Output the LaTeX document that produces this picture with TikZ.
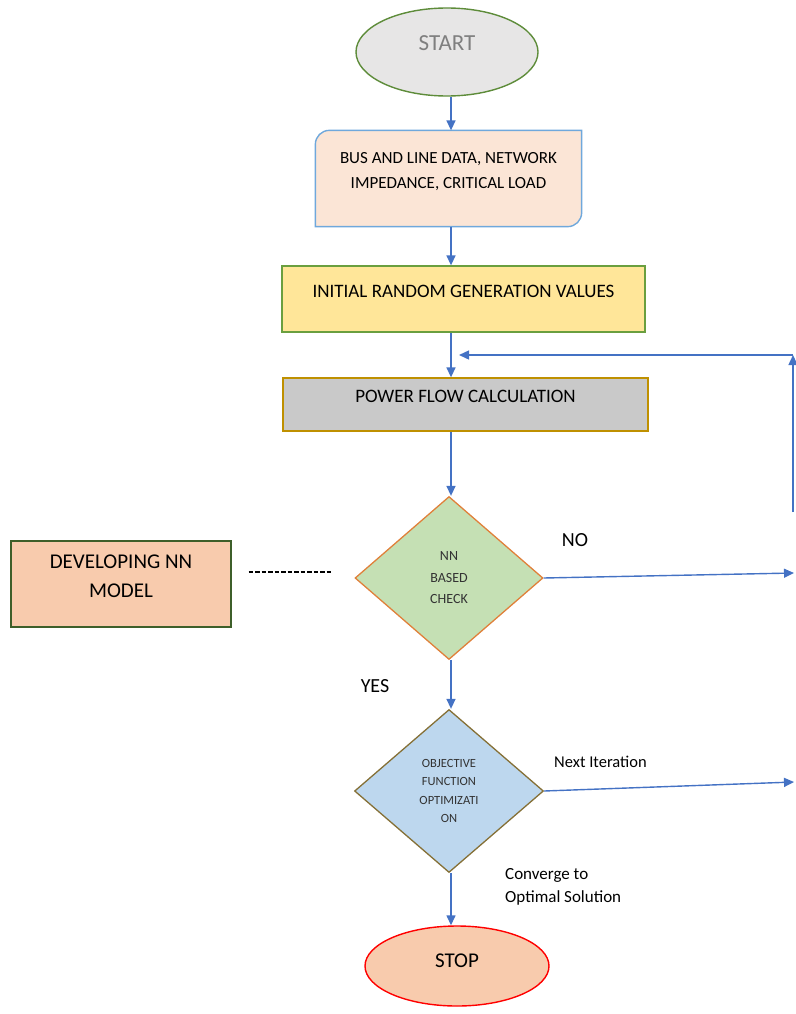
\documentclass[tikz,border=0pt]{standalone}
\usepackage{fontspec}
\setmainfont{Carlito}
\usetikzlibrary{shapes.geometric,arrows.meta,backgrounds}
\definecolor{flowblue}{HTML}{4472C4}
\definecolor{startfill}{HTML}{E7E6E6}
\definecolor{startline}{HTML}{5E8C3A}
\definecolor{startgray}{HTML}{7F7F7F}
\definecolor{datafill}{HTML}{FBE5D6}
\definecolor{dataline}{HTML}{6FA8DC}
\definecolor{initfill}{HTML}{FFE699}
\definecolor{initline}{HTML}{6A9F3F}
\definecolor{pffill}{HTML}{C9C9C9}
\definecolor{pfline}{HTML}{BF9000}
\definecolor{chkfill}{HTML}{C5E0B4}
\definecolor{chkline}{HTML}{E0803A}
\definecolor{devfill}{HTML}{F8CBAD}
\definecolor{devline}{HTML}{3E5F2A}
\definecolor{objfill}{HTML}{BDD7EE}
\definecolor{objline}{HTML}{857036}
\begin{document}
\begin{tikzpicture}[x=1pt, y=-1pt,
		flow/.style={draw=flowblue, line width=1.4pt, -{Triangle[length=10pt, width=9pt]}},
		procbox/.style={rectangle, line width=1.3pt, inner sep=0pt, align=center, text depth=16pt},
		terminal/.style={ellipse, line width=1.4pt, inner sep=0pt},
		decision/.style={diamond, line width=1.3pt, inner sep=0pt, align=center, text=black!80},
		lbl/.style={inner sep=0pt}]
	\useasboundingbox (0,0) rectangle (795,1014);
	\node[terminal, fill=startfill, draw=startline, text=startgray, text depth=18pt,
		font=\fontsize{23}{27}\selectfont, minimum width=182pt, minimum height=88pt] (start) at (447,52) {START};
	\node[procbox, font=\fontsize{17}{25}\selectfont, minimum width=265pt, minimum height=95pt] (data) at (448.5,178.5)
		{BUS AND LINE DATA, NETWORK\\IMPEDANCE, CRITICAL LOAD};
	\begin{scope}[on background layer]
		\path[fill=datafill, draw=dataline, line width=1.4pt]
			([yshift=-14pt]data.north west) arc[start angle=180, end angle=90, radius=14pt]
			-- (data.north east) -- ([yshift=14pt]data.south east)
			arc[start angle=0, end angle=-90, radius=14pt] -- (data.south west) -- cycle;
	\end{scope}
	\node[procbox, fill=initfill, draw=initline, font=\fontsize{19}{23}\selectfont,
		minimum width=363pt, minimum height=66pt] (init) at (463.5,299) {INITIAL RANDOM GENERATION VALUES};
	\node[procbox, fill=pffill, draw=pfline, font=\fontsize{19}{23}\selectfont,
		minimum width=365pt, minimum height=53pt] (pfc) at (465.5,404.5) {POWER FLOW CALCULATION};
	\node[decision, fill=chkfill, draw=chkline, font=\fontsize{14}{21.5}\selectfont,
		minimum width=188pt, minimum height=163pt] (chk) at (449,578) {NN\\BASED\\CHECK};
	\node[procbox, fill=devfill, draw=devline, font=\fontsize{21}{29}\selectfont,
		minimum width=220pt, minimum height=86pt] (dev) at (121,584) {DEVELOPING NN\\MODEL};
	\node[decision, fill=objfill, draw=objline, font=\fontsize{12.5}{18.5}\selectfont,
		minimum width=189pt, minimum height=163pt] (obj) at (449,791) {OBJECTIVE\\FUNCTION\\OPTIMIZATI\\ON};
	\node[terminal, fill=devfill, draw=red, text depth=10pt, font=\fontsize{21}{25}\selectfont,
		minimum width=184pt, minimum height=80pt] (stop) at (457,966) {STOP};
	\node[lbl, font=\fontsize{20}{24}\selectfont] (no) at (575,540) {NO};
	\node[lbl, font=\fontsize{20}{24}\selectfont] (yes) at (375,686) {YES};
	\node[lbl, anchor=west, font=\fontsize{16.5}{20}\selectfont] (nxt) at (554,762) {Next Iteration};
	\node[lbl, anchor=west, align=left, font=\fontsize{17}{23}\selectfont] (conv) at (505,887) {Converge to\\Optimal Solution};
	\coordinate (col) at (451,0);
	\coordinate (noend) at (794,573);
	\coordinate (uplo) at (793,512);
	\coordinate (uphi) at (793,355);
	\coordinate (back) at (459,355);
	\coordinate (nxend) at (794,782);
	\foreach \a/\b in {start/data, data/init, init/pfc, pfc/chk, chk/obj, obj/stop}
		\draw[flow] (\a.south -| col) -- (\b.north -| col);
	\draw[flow] (chk.east) -- (noend);
	\draw[flow] (uplo) -- (uphi);
	\draw[flow] (uphi) -- (back);
	\draw[flow] (obj.east) -- (nxend);
	\draw[black, line width=1.2pt, dash pattern=on 4.5pt off 2pt, shorten <=17pt, shorten >=22pt]
		([yshift=6pt]chk.west -| dev.east) -- ([yshift=6pt]chk.west);
\end{tikzpicture}
\end{document}
